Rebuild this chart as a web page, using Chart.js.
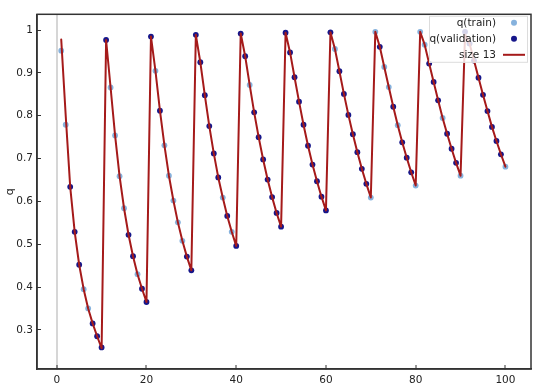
<!DOCTYPE html>
<html>
<head>
<meta charset="utf-8">
<script src="https://cdn.jsdelivr.net/npm/chart.js@4"></script>
<style>
  html, body { margin: 0; padding: 0; background: #fff; }
  #wrap { width: 540px; height: 388px; position: relative; }
</style>
</head>
<body>
<div id="wrap"><canvas id="qChart"></canvas></div>
<script>
// step index on the x axis
var steps = [
  1, 2, 3, 4, 5, 6, 7, 8, 9, 10, 11, 12, 13, 14, 15, 16, 17, 18, 19, 20,
  21, 22, 23, 24, 25, 26, 27, 28, 29, 30, 31, 32, 33, 34, 35, 36, 37, 38, 39, 40,
  41, 42, 43, 44, 45, 46, 47, 48, 49, 50, 51, 52, 53, 54, 55, 56, 57, 58, 59, 60,
  61, 62, 63, 64, 65, 66, 67, 68, 69, 70, 71, 72, 73, 74, 75, 76, 77, 78, 79, 80,
  81, 82, 83, 84, 85, 86, 87, 88, 89, 90, 91, 92, 93, 94, 95, 96, 97, 98, 99, 100
];

// observed q at each step
var qObserved = [
  0.952, 0.779, 0.634, 0.529, 0.452, 0.395, 0.350, 0.315, 0.285, 0.259,
  0.977, 0.866, 0.754, 0.659, 0.584, 0.522, 0.472, 0.430, 0.396, 0.365,
  0.985, 0.905, 0.812, 0.731, 0.660, 0.602, 0.551, 0.508, 0.471, 0.439,
  0.989, 0.925, 0.848, 0.776, 0.712, 0.656, 0.609, 0.566, 0.529, 0.496,
  0.992, 0.939, 0.872, 0.808, 0.750, 0.698, 0.651, 0.610, 0.573, 0.541,
  0.994, 0.948, 0.890, 0.833, 0.779, 0.730, 0.686, 0.647, 0.611, 0.579,
  0.995, 0.956, 0.904, 0.851, 0.802, 0.757, 0.715, 0.676, 0.641, 0.609,
  0.996, 0.961, 0.914, 0.867, 0.821, 0.778, 0.738, 0.702, 0.668, 0.637,
  0.996, 0.966, 0.922, 0.879, 0.836, 0.795, 0.758, 0.723, 0.690, 0.660,
  0.996, 0.969, 0.929, 0.889, 0.849, 0.811, 0.774, 0.741, 0.710, 0.681
];

// which set each step belongs to: t = train, v = validation
var qSplit = [
  't','t','v','v','v','t','t','v','v','v',
  'v','t','t','t','t','v','v','t','v','v',
  'v','t','v','t','t','t','t','t','v','v',
  'v','v','v','v','v','v','t','v','t','v',
  'v','v','t','v','v','v','v','v','v','v',
  'v','v','v','v','v','v','v','v','v','v',
  'v','t','v','v','v','v','v','v','v','t',
  't','v','t','t','v','t','v','v','v','t',
  't','t','v','v','v','t','v','v','v','t',
  'v','v','v','v','v','v','v','v','v','t'
];

// fitted curve ("size 13")
var qFit = [
  0.978, 0.800, 0.634, 0.529, 0.452, 0.395, 0.350, 0.315, 0.285, 0.257,
  0.977, 0.866, 0.754, 0.659, 0.584, 0.522, 0.472, 0.430, 0.396, 0.365,
  0.985, 0.905, 0.812, 0.731, 0.660, 0.602, 0.551, 0.508, 0.471, 0.439,
  0.989, 0.925, 0.848, 0.776, 0.712, 0.656, 0.609, 0.566, 0.529, 0.496,
  0.992, 0.939, 0.872, 0.808, 0.750, 0.698, 0.651, 0.610, 0.573, 0.541,
  0.994, 0.948, 0.890, 0.833, 0.779, 0.730, 0.686, 0.647, 0.611, 0.579,
  0.995, 0.956, 0.904, 0.851, 0.802, 0.757, 0.715, 0.676, 0.641, 0.609,
  0.996, 0.961, 0.914, 0.867, 0.821, 0.778, 0.738, 0.702, 0.668, 0.637,
  0.996, 0.966, 0.922, 0.879, 0.836, 0.795, 0.758, 0.723, 0.690, 0.660,
  0.990, 0.969, 0.929, 0.889, 0.849, 0.811, 0.774, 0.741, 0.710, 0.681
];

var xTicks = [0, 20, 40, 60, 80, 100];
var yTicks = [0.3, 0.4, 0.5, 0.6, 0.7, 0.8, 0.9, 1];

var trainPts = [];
var validPts = [];
var fitPts = [];
steps.forEach(function (s, i) {
  var p = { x: s, y: qObserved[i] };
  if (qSplit[i] === 't') trainPts.push(p); else validPts.push(p);
  fitPts.push({ x: s, y: qFit[i] });
});

Chart.defaults.font.family = '"DejaVu Sans", Verdana, sans-serif';
Chart.defaults.font.size = 10.5;
Chart.defaults.color = '#222';

// box around the plot
var framePlugin = {
  id: 'frame',
  afterDraw: function (chart) {
    var a = chart.chartArea, ctx = chart.ctx;
    ctx.save();
    ctx.strokeStyle = '#333';
    ctx.lineWidth = 1.5;
    ctx.strokeRect(a.left, a.top, a.right - a.left, a.bottom - a.top);
    ctx.restore();
  }
};

// legend inside the top-right corner, symbols to the right of the text
var cornerLegend = {
  id: 'cornerLegend',
  afterDraw: function (chart) {
    var a = chart.chartArea, ctx = chart.ctx;
    var ds = chart.data.datasets;
    var boxR = a.right - 3, boxT = a.top + 1.5, boxW = 99, boxH = 47;
    ctx.save();
    ctx.fillStyle = 'rgba(255,255,255,0.82)';
    ctx.fillRect(boxR - boxW, boxT, boxW, boxH);
    ctx.strokeStyle = '#dcdcdc';
    ctx.lineWidth = 1;
    ctx.strokeRect(boxR - boxW + 0.5, boxT + 0.5, boxW - 1, boxH - 1);
    ctx.font = '10.5px "DejaVu Sans", Verdana, sans-serif';
    ctx.textAlign = 'right';
    ctx.textBaseline = 'middle';
    ds.forEach(function (d, i) {
      var y = boxT + 7 + i * 16;
      ctx.fillStyle = '#222';
      ctx.fillText(d.label, boxR - 32, y);
      if (d.showLine) {
        ctx.strokeStyle = d.borderColor;
        ctx.lineWidth = 2;
        ctx.beginPath();
        ctx.moveTo(boxR - 25, y);
        ctx.lineTo(boxR - 3, y);
        ctx.stroke();
      } else {
        ctx.fillStyle = d.backgroundColor;
        ctx.beginPath();
        ctx.arc(boxR - 14, y, 3, 0, Math.PI * 2);
        ctx.fill();
      }
    });
    ctx.restore();
  }
};

var ctx = document.getElementById('qChart');
var qChart = new Chart(ctx, {
  type: 'scatter',
  data: {
    datasets: [{
      label: 'q(train)',
      data: trainPts,
      backgroundColor: '#86b2dd',
      borderWidth: 0,
      pointRadius: 2.9,
      order: 2
    }, {
      label: 'q(validation)',
      data: validPts,
      backgroundColor: '#16168a',
      borderWidth: 0,
      pointRadius: 2.9,
      order: 1
    }, {
      label: 'size 13',
      data: fitPts,
      showLine: true,
      borderColor: '#a51a1a',
      backgroundColor: '#a51a1a',
      borderWidth: 2,
      borderJoinStyle: 'round',
      borderCapStyle: 'round',
      pointRadius: 0,
      tension: 0,
      order: 0
    }]
  },
  options: {
    responsive: true,
    maintainAspectRatio: false,
    animation: false,
    layout: { padding: { top: 7, right: 9, left: 0, bottom: 0 } },
    plugins: {
      legend: { display: false },
      tooltip: { enabled: false }
    },
    scales: {
      x: {
        type: 'linear',
        min: -4.4,
        max: 105.7,
        afterBuildTicks: function (s) { s.ticks = xTicks.map(function (v) { return { value: v }; }); },
        afterFit: function (s) { s.height = 19; },
        grid: {
          color: function (c) { return c.tick && c.tick.value === 0 ? '#d6d6d6' : 'rgba(0,0,0,0)'; },
          lineWidth: 2,
          tickColor: '#333',
          tickLength: -4,
          tickWidth: 1
        },
        border: { color: '#333', width: 1.5 },
        ticks: { padding: 9, maxRotation: 0 }
      },
      y: {
        min: 0.2085,
        max: 1.037,
        afterBuildTicks: function (s) { s.ticks = yTicks.map(function (v) { return { value: v }; }); },
        afterFit: function (s) { s.width = 37; },
        grid: {
          drawOnChartArea: false,
          tickColor: '#333',
          tickLength: -4,
          tickWidth: 1
        },
        border: { color: '#333', width: 1.5 },
        ticks: {
          padding: 8,
          callback: function (v) { return String(+v.toFixed(1)); }
        },
        title: { display: true, text: 'q', font: { size: 11 }, padding: { top: 4, bottom: 0 } }
      }
    }
  },
  plugins: [framePlugin, cornerLegend]
});
</script>
</body>
</html>
